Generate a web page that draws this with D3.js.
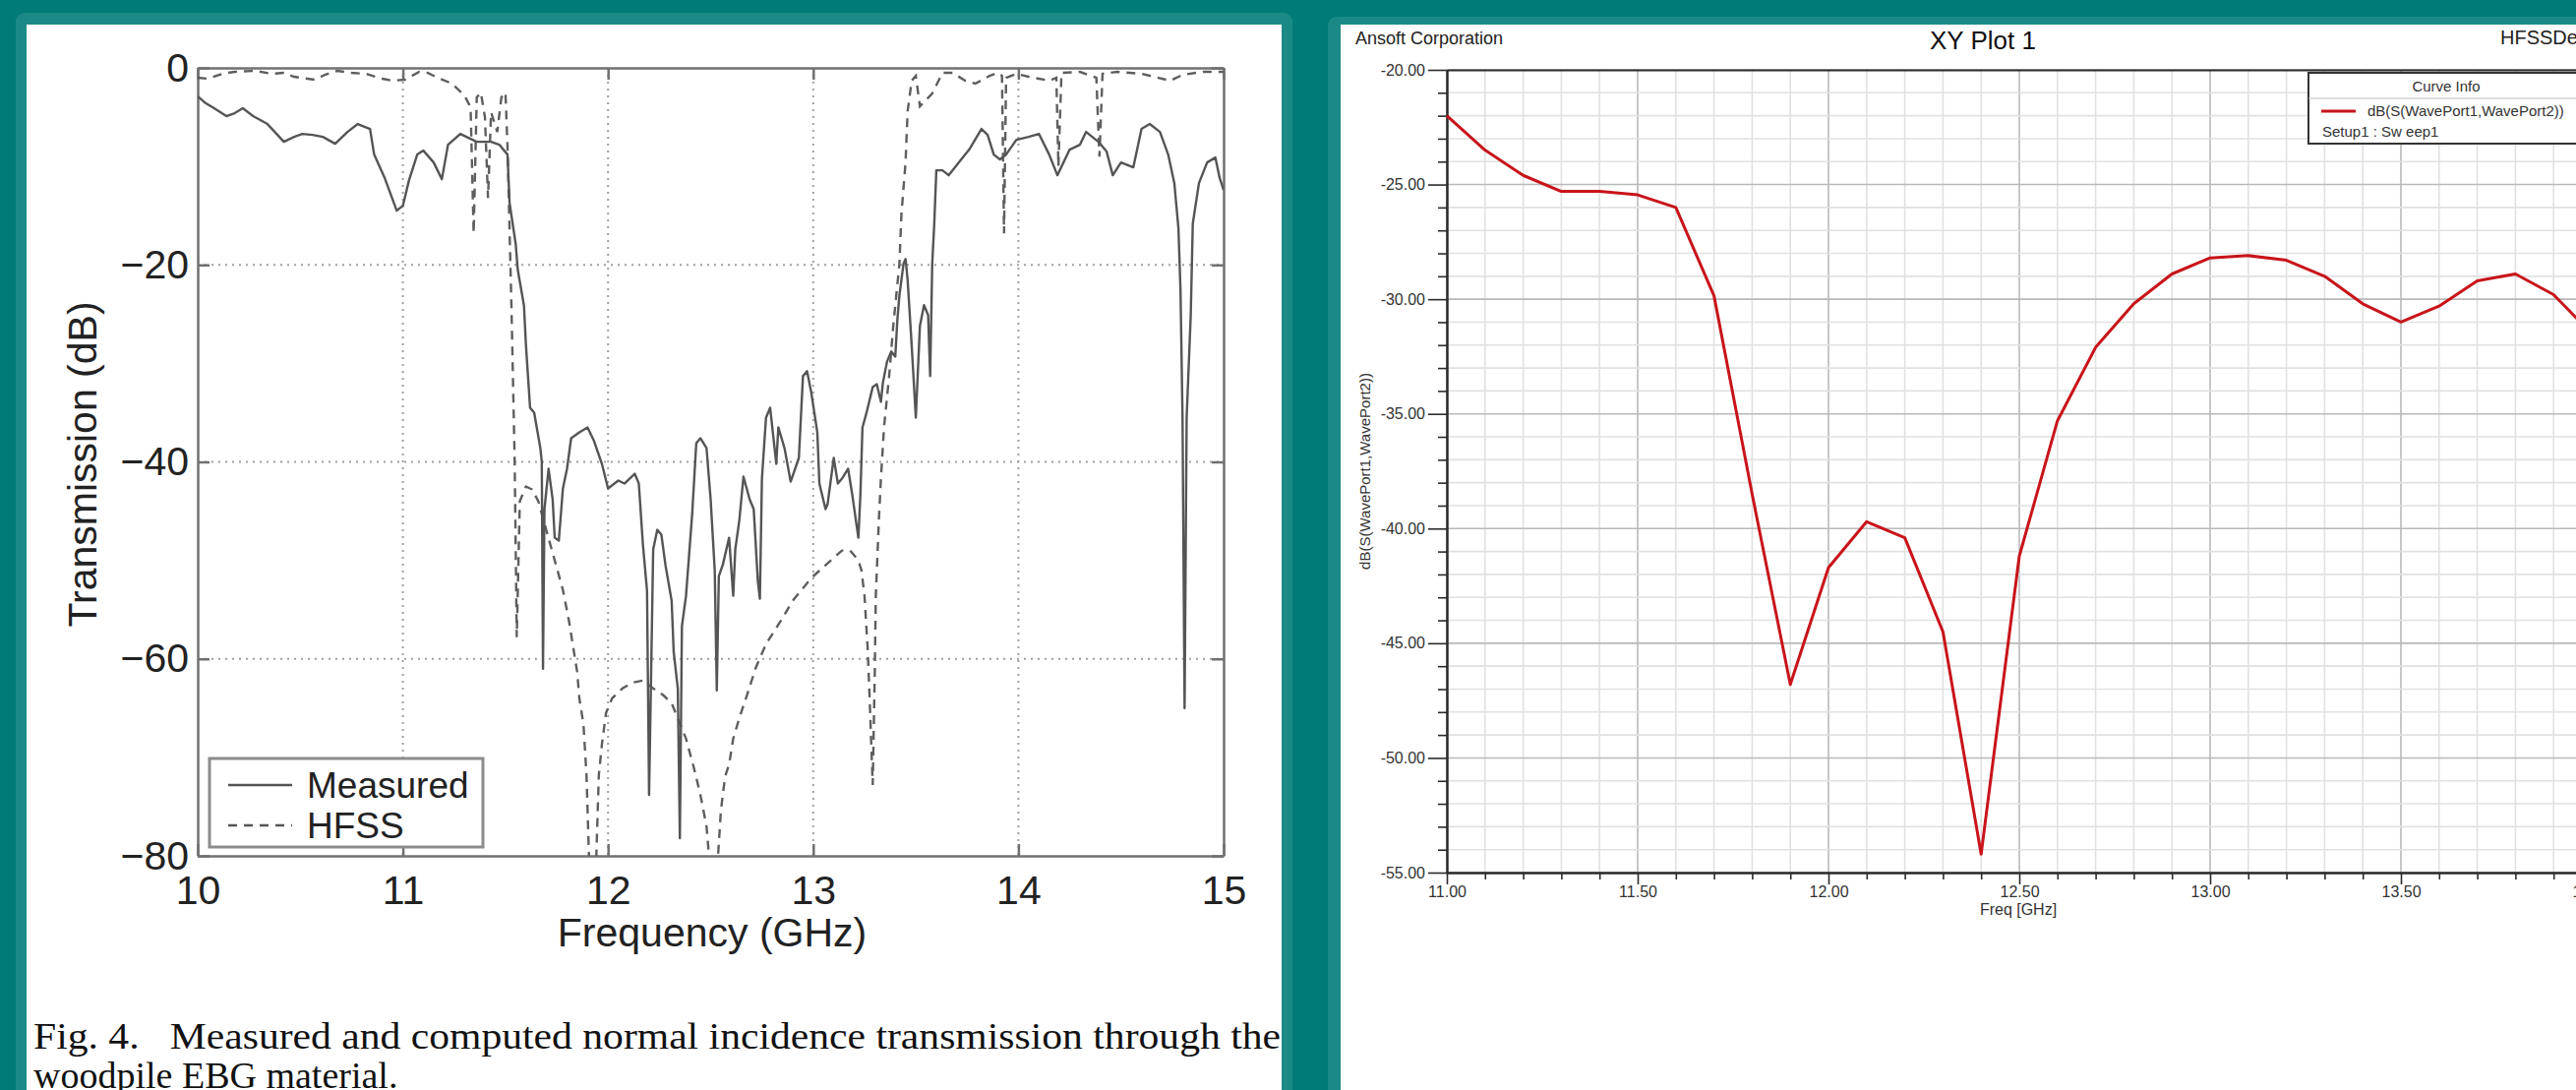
<!DOCTYPE html>
<html>
<head>
<meta charset="utf-8">
<script src="https://cdn.jsdelivr.net/npm/d3@7"></script>
<style>
  body { margin: 0; background: #007b78; overflow: hidden; }
  svg { display: block; }
</style>
</head>
<body>
<div id="chart"></div>
<script>
// ---- left figure: measured vs HFSS transmission (woodpile EBG) ----
var measuredFreq = [10.00,10.04,10.08,10.14,10.18,10.22,10.27,10.34,10.42,10.47,10.51,10.56,10.61,10.67,10.73,10.78,10.84,10.86,10.91,10.97,
  11.00,11.03,11.07,11.10,11.15,11.19,11.22,11.28,11.31,11.36,11.43,11.47,11.51,11.52,11.55,11.56,11.59,11.60,11.62,11.64,
  11.67,11.677,11.683,11.69,11.71,11.73,11.74,11.76,11.78,11.80,11.82,11.86,11.90,11.93,11.97,12.00,12.05,12.08,12.13,12.15,
  12.17,12.19,12.20,12.22,12.24,12.26,12.28,12.31,12.32,12.34,12.35,12.36,12.38,12.41,12.43,12.45,12.48,12.50,12.52,12.53,
  12.54,12.56,12.59,12.61,12.62,12.64,12.66,12.69,12.71,12.73,12.74,12.75,12.77,12.79,12.82,12.83,12.86,12.89,12.93,12.95,
  12.97,12.99,13.02,13.03,13.06,13.07,13.10,13.12,13.14,13.17,13.19,13.22,13.23,13.24,13.26,13.29,13.31,13.33,13.34,13.36,
  13.38,13.40,13.41,13.42,13.44,13.45,13.46,13.48,13.50,13.52,13.54,13.56,13.57,13.58,13.59,13.60,13.63,13.66,13.71,13.76,
  13.82,13.85,13.88,13.91,13.94,13.99,14.05,14.10,14.15,14.19,14.25,14.30,14.33,14.39,14.43,14.46,14.50,14.56,14.60,14.64,
  14.69,14.73,14.76,14.78,14.79,14.80,14.81,14.82,14.84,14.85,14.88,14.92,14.96,14.98,15.00];
var measuredDb = [-2.9,-3.6,-4.1,-4.9,-4.6,-4.1,-4.9,-5.7,-7.5,-7.0,-6.7,-6.8,-7.0,-7.7,-6.5,-5.7,-6.2,-8.8,-11.1,-14.5,
  -14.0,-11.4,-8.8,-8.4,-9.6,-11.3,-7.8,-6.7,-7.0,-7.5,-7.5,-7.8,-8.8,-13.7,-17.9,-20.5,-24.1,-28.2,-34.5,-35.0,
  -38.6,-40.0,-61.0,-44.8,-40.7,-43.8,-47.7,-48.0,-42.7,-40.7,-37.6,-37.0,-36.5,-37.8,-40.2,-42.7,-41.9,-42.2,-41.2,-42.2,
  -48.4,-53.1,-73.8,-48.9,-46.9,-47.4,-50.5,-54.1,-59.3,-63.0,-78.2,-56.7,-53.6,-45.3,-38.1,-37.6,-38.6,-43.8,-51.0,-63.2,
  -51.6,-50.4,-47.7,-53.6,-48.9,-45.9,-41.5,-43.8,-44.8,-52.1,-53.9,-41.7,-35.5,-34.5,-40.2,-36.5,-38.6,-42.0,-39.6,-31.3,
  -30.8,-32.9,-37.0,-42.2,-44.8,-44.3,-39.6,-42.2,-41.7,-40.7,-43.3,-47.7,-43.3,-36.5,-35.0,-32.4,-32.1,-33.9,-31.9,-29.8,
  -28.8,-29.3,-25.6,-23.1,-19.9,-19.4,-21.5,-28.2,-35.5,-26.2,-24.1,-25.1,-31.3,-19.9,-15.8,-10.4,-10.4,-10.9,-9.6,-8.3,
  -6.2,-6.8,-8.8,-9.3,-8.8,-7.3,-7.0,-6.7,-8.8,-10.9,-8.3,-7.8,-6.5,-7.5,-8.5,-10.9,-9.6,-10.1,-6.2,-5.7,
  -6.5,-8.8,-11.7,-16.3,-22.5,-35.5,-65.0,-35.5,-25.1,-15.8,-11.7,-9.6,-9.1,-11.1,-12.4];

var hfssFreq = [10.00,10.05,10.12,10.18,10.28,10.36,10.42,10.47,10.57,10.62,10.68,10.75,10.82,10.90,10.95,11.01,11.08,11.12,11.17,11.24,
  11.30,11.33,11.345,11.36,11.38,11.40,11.415,11.43,11.46,11.48,11.50,11.51,11.53,11.545,11.555,11.57,11.60,11.63,11.66,11.70,
  11.74,11.78,11.81,11.83,11.85,11.86,11.88,11.895,11.91,11.94,11.955,11.97,11.99,12.02,12.07,12.12,12.17,12.22,12.27,12.31,
  12.38,12.42,12.45,12.48,12.50,12.53,12.55,12.57,12.59,12.61,12.64,12.68,12.72,12.77,12.84,12.90,12.99,13.07,13.14,13.18,
  13.22,13.235,13.25,13.265,13.275,13.29,13.30,13.305,13.32,13.33,13.345,13.37,13.39,13.42,13.43,13.45,13.46,13.48,13.50,13.52,
  13.58,13.63,13.68,13.74,13.79,13.86,13.90,13.92,13.93,13.94,13.99,14.05,14.15,14.185,14.195,14.21,14.30,14.38,14.395,14.41,
  14.48,14.60,14.74,14.80,14.90,15.00];
var hfssDb = [-1.0,-1.1,-0.6,-0.4,-0.3,-0.6,-0.5,-0.9,-1.2,-0.7,-0.3,-0.5,-0.6,-1.1,-1.3,-1.2,-0.4,-0.5,-1.0,-1.6,
  -2.8,-4.0,-16.8,-3.0,-2.5,-5.0,-13.2,-4.5,-6.5,-3.0,-2.5,-8.0,-25.0,-40.0,-57.8,-44.0,-42.5,-42.8,-44.0,-47.0,
  -50.0,-53.0,-56.2,-58.8,-61.4,-64.0,-66.6,-71.8,-82.0,-82.0,-71.8,-68.7,-65.5,-64.0,-63.0,-62.4,-62.2,-63.0,-63.7,-64.5,
  -68.1,-71.2,-73.8,-77.0,-82.0,-82.0,-75.4,-72.0,-70.7,-68.1,-66.0,-63.5,-60.9,-58.5,-56.2,-54.1,-51.8,-50.3,-49.0,-49.0,
  -50.0,-51.0,-53.6,-58.8,-64.0,-72.8,-61.4,-53.6,-45.9,-41.7,-36.5,-31.3,-26.2,-19.9,-14.8,-9.6,-4.4,-1.3,-0.8,-3.9,
  -2.6,-0.5,-0.5,-1.3,-1.6,-0.8,-0.5,-0.8,-16.8,-1.0,-0.6,-0.9,-1.3,-1.0,-10.0,-0.5,-0.4,-1.0,-9.0,-0.6,
  -0.4,-0.6,-1.3,-0.7,-0.4,-0.4];

var leftXTicks = [10, 11, 12, 13, 14, 15];
var leftYTicks = [0, -20, -40, -60, -80];
var leftSeries = ["Measured", "HFSS"];

// ---- right figure: Ansoft HFSS XY Plot 1 ----
var sweepFreq = [11.0,11.1,11.2,11.3,11.4,11.5,11.6,11.7,11.8,11.9,12.0,12.1,12.2,12.3,12.4,12.5,
  12.6,12.7,12.8,12.9,13.0,13.1,13.2,13.3,13.4,13.5,13.6,13.7,13.8,13.9,14.0];
var sweepDb = [-22.0,-23.5,-24.6,-25.3,-25.3,-25.45,-26.0,-29.85,-38.5,-46.8,-41.7,-39.7,-40.4,-44.5,-54.2,-41.2,
  -35.3,-32.1,-30.2,-28.9,-28.2,-28.1,-28.3,-29.0,-30.2,-31.0,-30.3,-29.2,-28.9,-29.8,-31.5];
var rightXTicks = [11, 11.5, 12, 12.5, 13, 13.5, 14];
var rightYTicks = [-20, -25, -30, -35, -40, -45, -50, -55];

var W = 2619, H = 1108;
var sans = "'Liberation Sans', Arial, Helvetica, sans-serif";
var serif = "'Liberation Serif', 'Times New Roman', serif";

var svg = d3.select("#chart").append("svg")
    .attr("width", W)
    .attr("height", H);

// background + the two white "slides"
svg.append("rect").attr("width", W).attr("height", H).attr("fill", "#007b78");
svg.append("rect").attr("x", 16).attr("y", 13).attr("width", 1298).attr("height", 1130)
    .attr("rx", 9).attr("fill", "#1b8a87");
svg.append("rect").attr("x", 27).attr("y", 25).attr("width", 1276).attr("height", 1120).attr("fill", "#fff");
svg.append("rect").attr("x", 1350).attr("y", 17).attr("width", 1320).attr("height", 1130)
    .attr("rx", 9).attr("fill", "#1b8a87");
svg.append("rect").attr("x", 1363).attr("y", 25).attr("width", 1320).attr("height", 1120).attr("fill", "#fff");

// ================= left chart =================
var xL = d3.scaleLinear().domain([10, 15]).range([201, 1244]);
var yL = d3.scaleLinear().domain([-80, 0]).range([870, 69]);
var gL = svg.append("g");

gL.append("clipPath").attr("id", "clipL")
  .append("rect").attr("x", xL(10)).attr("y", yL(0))
    .attr("width", xL(15) - xL(10)).attr("height", yL(-80) - yL(0));

// dotted grid
gL.selectAll(".vgrid").data(leftXTicks.slice(1, -1)).enter().append("line")
    .attr("x1", function(d) { return xL(d); }).attr("x2", function(d) { return xL(d); })
    .attr("y1", yL(0)).attr("y2", yL(-80))
    .attr("stroke", "#a0a0a0").attr("stroke-width", 2).attr("stroke-dasharray", "2,5");
gL.selectAll(".hgrid").data(leftYTicks.slice(1, -1)).enter().append("line")
    .attr("y1", function(d) { return yL(d); }).attr("y2", function(d) { return yL(d); })
    .attr("x1", xL(10)).attr("x2", xL(15))
    .attr("stroke", "#a0a0a0").attr("stroke-width", 2).attr("stroke-dasharray", "2,5");

function styleLeftAxis(g) {
  g.attr("font-size", 41).attr("font-family", sans);
  g.select(".domain").attr("stroke", "#707070").attr("stroke-width", 2.5);
  g.selectAll(".tick line").attr("stroke", "#707070").attr("stroke-width", 2.5);
  g.selectAll(".tick text").attr("fill", "#222");
}

gL.append("g").attr("transform", "translate(0," + yL(-80) + ")")
    .call(d3.axisBottom(xL).tickValues(leftXTicks).tickSize(-12).tickSizeOuter(0)
      .tickPadding(20).tickFormat(d3.format("d")))
    .call(styleLeftAxis);
gL.append("g").attr("transform", "translate(0," + yL(0) + ")")
    .call(d3.axisTop(xL).tickValues(leftXTicks).tickSize(-12).tickSizeOuter(0).tickFormat(""))
    .call(styleLeftAxis);
gL.append("g").attr("transform", "translate(" + xL(10) + ",0)")
    .call(d3.axisLeft(yL).tickValues(leftYTicks).tickSize(-12).tickSizeOuter(0).tickPadding(9))
    .call(styleLeftAxis);
gL.append("g").attr("transform", "translate(" + xL(15) + ",0)")
    .call(d3.axisRight(yL).tickValues(leftYTicks).tickSize(-12).tickSizeOuter(0).tickFormat(""))
    .call(styleLeftAxis);

var lineL = d3.line()
    .x(function(d) { return xL(d.f); })
    .y(function(d) { return yL(d.db); });

var hfss = hfssFreq.map(function(f, i) { return {f: f, db: hfssDb[i]}; });
var measured = measuredFreq.map(function(f, i) { return {f: f, db: measuredDb[i]}; });

gL.append("path").datum(hfss)
    .attr("d", lineL).attr("clip-path", "url(#clipL)")
    .attr("fill", "none").attr("stroke", "#5e5e5e").attr("stroke-width", 2.4)
    .attr("stroke-dasharray", "9,7");
gL.append("path").datum(measured)
    .attr("d", lineL).attr("clip-path", "url(#clipL)")
    .attr("fill", "none").attr("stroke", "#555").attr("stroke-width", 2.4)
    .attr("stroke-linejoin", "round");

// legend
var legL = gL.append("g");
legL.append("rect").attr("x", 213).attr("y", 771).attr("width", 278).attr("height", 90)
    .attr("fill", "#fff").attr("stroke", "#8c8c8c").attr("stroke-width", 3);
legL.selectAll(".legline").data(leftSeries).enter().append("line")
    .attr("x1", 232).attr("x2", 297)
    .attr("y1", function(d, i) { return 798 + i * 41; })
    .attr("y2", function(d, i) { return 798 + i * 41; })
    .attr("stroke", "#555").attr("stroke-width", 2.4)
    .attr("stroke-dasharray", function(d, i) { return i ? "9,7" : null; });
legL.selectAll(".legtext").data(leftSeries).enter().append("text")
    .attr("x", 312).attr("y", function(d, i) { return 811 + i * 41; })
    .attr("font-family", sans).attr("font-size", 37).attr("fill", "#222")
    .text(function(d) { return d; });

// axis titles
gL.append("text").attr("x", 724).attr("y", 962).attr("text-anchor", "middle")
    .attr("font-family", sans).attr("font-size", 41).attr("fill", "#222")
    .text("Frequency (GHz)");
gL.append("text").attr("transform", "translate(98,472) rotate(-90)").attr("text-anchor", "middle")
    .attr("font-family", sans).attr("font-size", 41).attr("fill", "#222")
    .text("Transmission (dB)");

// caption
gL.append("text").attr("x", 34).attr("y", 1066)
    .attr("font-family", serif).attr("font-size", 38).attr("fill", "#111")
    .attr("textLength", 1268).attr("lengthAdjust", "spacingAndGlyphs")
    .attr("xml:space", "preserve")
    .text("Fig. 4.   Measured and computed normal incidence transmission through the");
gL.append("text").attr("x", 34).attr("y", 1106)
    .attr("font-family", serif).attr("font-size", 38).attr("fill", "#111")
    .text("woodpile EBG material.");

// ================= right chart =================
var xR = d3.scaleLinear().domain([11, 14]).range([1471, 2635]);
var yR = d3.scaleLinear().domain([-55, -20]).range([887, 71]);
var gR = svg.append("g");

var minorX = d3.range(110, 141).map(function(d) { return d / 10; });
var minorY = d3.range(-55, -19);

gR.selectAll(".mvx").data(minorX).enter().append("line")
    .attr("x1", function(d) { return xR(d); }).attr("x2", function(d) { return xR(d); })
    .attr("y1", yR(-20)).attr("y2", yR(-55))
    .attr("stroke", function(d) { return rightXTicks.indexOf(d) >= 0 ? "#b9b9b9" : "#e1e1e1"; })
    .attr("stroke-width", 1.6);
gR.selectAll(".mvy").data(minorY).enter().append("line")
    .attr("y1", function(d) { return yR(d); }).attr("y2", function(d) { return yR(d); })
    .attr("x1", xR(11)).attr("x2", xR(14))
    .attr("stroke", function(d) { return d % 5 === 0 ? "#b9b9b9" : "#e1e1e1"; })
    .attr("stroke-width", 1.6);

var fmt = function(d) { return d3.format(".2f")(d).replace("\u2212", "-"); };

function styleRightAxis(g) {
  g.attr("font-size", 16).attr("font-family", sans);
  g.select(".domain").attr("stroke", "#2b2b2b").attr("stroke-width", 2);
  g.selectAll(".tick line").attr("stroke", "#2b2b2b").attr("stroke-width", 1.6);
  g.selectAll(".tick text").attr("fill", "#333");
}

gR.append("g").attr("transform", "translate(" + xR(11) + ",0)")
    .call(d3.axisLeft(yR).tickValues(minorY.filter(function(d) { return d % 5 !== 0; }))
      .tickSize(9).tickSizeOuter(0).tickFormat(""))
    .call(styleRightAxis);
gR.append("g").attr("transform", "translate(" + xR(11) + ",0)")
    .call(d3.axisLeft(yR).tickValues(rightYTicks).tickSize(19).tickSizeOuter(0).tickPadding(3).tickFormat(fmt))
    .call(styleRightAxis);
gR.append("g").attr("transform", "translate(0," + yR(-55) + ")")
    .call(d3.axisBottom(xR).tickValues(minorX.filter(function(d) { return rightXTicks.indexOf(d) < 0; }))
      .tickSize(7).tickSizeOuter(0).tickFormat(""))
    .call(styleRightAxis);
gR.append("g").attr("transform", "translate(0," + yR(-55) + ")")
    .call(d3.axisBottom(xR).tickValues(rightXTicks).tickSize(12).tickSizeOuter(0).tickPadding(2).tickFormat(fmt))
    .call(styleRightAxis);
gR.append("g").attr("transform", "translate(0," + yR(-20) + ")")
    .call(d3.axisTop(xR).tickValues([]).tickSizeOuter(0))
    .call(styleRightAxis);

var lineR = d3.line()
    .x(function(d) { return xR(d.f); })
    .y(function(d) { return yR(d.db); });
var sweep = sweepFreq.map(function(f, i) { return {f: f, db: sweepDb[i]}; });

gR.append("path").datum(sweep)
    .attr("d", lineR)
    .attr("fill", "none").attr("stroke", "#c8141a").attr("stroke-width", 3)
    .attr("stroke-linejoin", "round");

// header texts
gR.append("text").attr("x", 1378).attr("y", 45)
    .attr("font-family", sans).attr("font-size", 18).attr("fill", "#222").text("Ansoft Corporation");
gR.append("text").attr("x", 2016).attr("y", 50).attr("text-anchor", "middle")
    .attr("font-family", sans).attr("font-size", 26).attr("fill", "#111").text("XY Plot 1");
gR.append("text").attr("x", 2542).attr("y", 45)
    .attr("font-family", sans).attr("font-size", 20).attr("fill", "#222").text("HFSSDesign1");

// axis titles
gR.append("text").attr("x", 2052).attr("y", 930).attr("text-anchor", "middle")
    .attr("font-family", sans).attr("font-size", 16).attr("fill", "#333").text("Freq [GHz]");
gR.append("text").attr("transform", "translate(1393,479) rotate(-90)").attr("text-anchor", "middle")
    .attr("font-family", sans).attr("font-size", 15).attr("fill", "#333").text("dB(S(WavePort1,WavePort2))");

// curve info box
var info = gR.append("g");
info.append("rect").attr("x", 2347).attr("y", 74).attr("width", 400).attr("height", 72)
    .attr("fill", "#fff").attr("stroke", "#333").attr("stroke-width", 2);
info.append("line").attr("x1", 2347).attr("x2", 2747).attr("y1", 100).attr("y2", 100)
    .attr("stroke", "#bbb").attr("stroke-width", 1);
info.append("text").attr("x", 2487).attr("y", 93).attr("text-anchor", "middle")
    .attr("font-family", sans).attr("font-size", 15).attr("fill", "#333").text("Curve Info");
info.append("line").attr("x1", 2360).attr("x2", 2395).attr("y1", 113).attr("y2", 113)
    .attr("stroke", "#c8141a").attr("stroke-width", 3);
info.append("text").attr("x", 2407).attr("y", 118)
    .attr("font-family", sans).attr("font-size", 15).attr("fill", "#333").text("dB(S(WavePort1,WavePort2))");
info.append("text").attr("x", 2361).attr("y", 139)
    .attr("font-family", sans).attr("font-size", 15).attr("fill", "#333").text("Setup1 : Sw eep1");
</script>
</body>
</html>
